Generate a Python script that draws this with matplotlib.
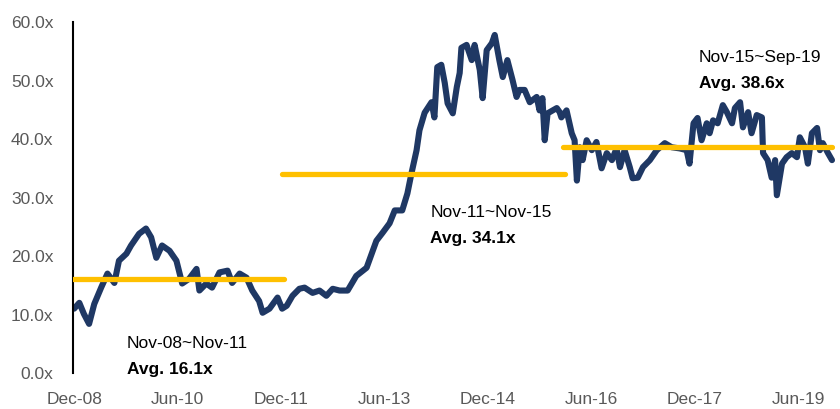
import matplotlib
matplotlib.use("Agg")
import matplotlib.pyplot as plt

plt.rcParams['font.family'] = ['Liberation Sans', 'DejaVu Sans']

# months counted from Dec-08, P/E multiple
months = [0.0, 0.9, 1.7, 2.6, 3.5, 4.7, 5.8, 7.0, 7.8, 9.1, 9.9, 11.3, 12.5, 13.4,
          14.3, 15.3, 16.6, 17.8, 18.8, 20.0, 21.3, 21.8, 23.0, 24.0, 25.3, 26.7,
          27.5, 28.8, 30.0, 31.0, 32.2, 32.8, 34.0, 35.4, 36.2, 37.0, 38.0, 39.2,
          40.1, 41.5, 42.7, 43.9, 45.0, 46.2, 47.6, 49.1, 50.9, 52.6, 53.7, 54.9,
          55.8, 57.1, 58.0, 58.7, 59.6, 60.1, 61.0, 62.2, 62.7, 63.2, 63.9, 64.5,
          65.0, 65.9, 66.6, 67.1, 67.4, 68.3, 69.2, 69.7, 70.6, 71.1, 71.8, 72.7,
          73.2, 74.0, 74.6, 75.4, 76.3, 77.0, 77.5, 78.4, 79.3, 80.5, 81.0, 81.5,
          81.9, 82.4, 83.3, 84.0, 84.5, 84.8, 85.7, 86.6, 87.1, 87.5, 88.0, 88.5,
          89.2, 90.1, 90.9, 91.8, 92.7, 93.6, 94.4, 95.0, 95.8, 96.7, 97.2, 98.1,
          99.0, 100.2, 101.4, 102.8, 104.0, 105.4, 106.6, 107.1, 107.8, 108.5,
          109.2, 110.1, 110.6, 111.2, 112.0, 112.9, 113.6, 114.5, 115.0, 115.9,
          116.4, 117.3, 117.9, 118.8, 119.7, 119.9, 120.7, 121.4, 122.0, 122.3,
          123.2, 124.0, 124.9, 125.8, 126.3, 127.2, 127.7, 128.4, 129.3, 129.8,
          130.3, 131.2, 131.9]
pe = [11.0, 12.0, 10.1, 8.4, 11.8, 14.6, 17.0, 15.4, 19.2, 20.4, 21.8, 23.8, 24.7, 23.2,
      19.7, 21.8, 20.9, 19.2, 15.3, 16.1, 17.8, 14.1, 15.3, 14.6, 17.2, 17.5,
      15.4, 17.0, 16.3, 14.1, 12.3, 10.3, 11.0, 12.9, 11.0, 11.5, 13.2, 14.4,
      14.6, 13.7, 14.1, 13.2, 14.4, 14.1, 14.1, 16.6, 18.0, 22.6, 24.0, 25.6,
      27.8, 27.8, 30.7, 34.1, 38.1, 41.5, 44.5, 46.3, 43.7, 52.3, 52.7, 49.6,
      46.1, 44.4, 48.9, 51.3, 55.6, 56.1, 53.5, 56.1, 51.8, 47.0, 55.2, 56.4,
      57.8, 53.5, 50.6, 53.5, 50.1, 47.2, 48.4, 48.4, 46.3, 47.2, 44.9, 47.0,
      39.8, 44.4, 44.9, 45.3, 44.6, 43.7, 44.9, 41.0, 39.8, 32.9, 38.6, 36.4,
      39.8, 38.1, 39.5, 35.0, 37.6, 36.4, 38.4, 35.2, 38.1, 35.2, 33.3, 33.4,
      35.2, 36.4, 38.1, 39.3, 38.6, 38.4, 38.1, 35.8, 42.7, 43.6,
      39.8, 42.7, 41.0, 43.2, 42.7, 45.8, 44.6, 42.7, 45.3, 46.3,
      42.0, 44.6, 41.0, 44.1, 43.7, 37.6, 36.4, 33.4, 36.4, 30.4,
      35.8, 36.9, 37.6, 36.9, 40.3, 38.6, 35.8, 41.0, 41.9, 38.1,
      39.3, 37.6, 36.4]

# period averages
avg_start = [-0.2, 36.2, 85.0]
avg_end = [36.6, 85.4, 131.9]
avg_val = [16.1, 34.1, 38.6]
avg_period = ['Nov-08~Nov-11', 'Nov-11~Nov-15', 'Nov-15~Sep-19']
label_pos = [(9.2, 5.1), (62.0, 27.5), (108.7, 54.0)]

tick_pos = [0, 18, 36, 54, 72, 90, 108, 126]
tick_labels = ['Dec-08', 'Jun-10', 'Dec-11', 'Jun-13', 'Dec-14', 'Jun-16', 'Dec-17', 'Jun-19']

navy = '#1F3864'
gold = '#FFC000'

fig = plt.figure(figsize=(8.4, 4.09), dpi=100)
ax = fig.add_axes([0.0869, 0.088, 0.907, 0.858])

ax.plot(months, pe, color=navy, lw=4.4, solid_joinstyle='round', solid_capstyle='round', zorder=2)

for s, e, v in zip(avg_start, avg_end, avg_val):
    ax.plot([s, e], [v, v], color=gold, lw=3.8, solid_capstyle='round', zorder=3)

for (tx, ty), per, v in zip(label_pos, avg_period, avg_val):
    ax.text(tx, ty, per, fontsize=12.5, color='black', va='center', ha='left')
    ax.text(tx, ty - 4.5, f'Avg. {v:.1f}x', fontsize=12.5, fontweight='bold',
            color='black', va='center', ha='left')

ax.set_xlim(-0.2, 132.4)
ax.set_ylim(0, 60)
ax.set_yticks(range(0, 61, 10))
ax.set_yticklabels([f'{v:.1f}x' for v in range(0, 61, 10)])
ax.set_xticks(tick_pos)
ax.set_xticklabels(tick_labels)
ax.tick_params(axis='both', length=0, labelsize=12.5, labelcolor='#595959')
ax.tick_params(axis='x', pad=14)
ax.tick_params(axis='y', pad=14)

for side in ['top', 'right', 'bottom']:
    ax.spines[side].set_visible(False)
ax.spines['left'].set_color('black')
ax.spines['left'].set_linewidth(1.5)

fig.savefig('out.png', dpi=100)
